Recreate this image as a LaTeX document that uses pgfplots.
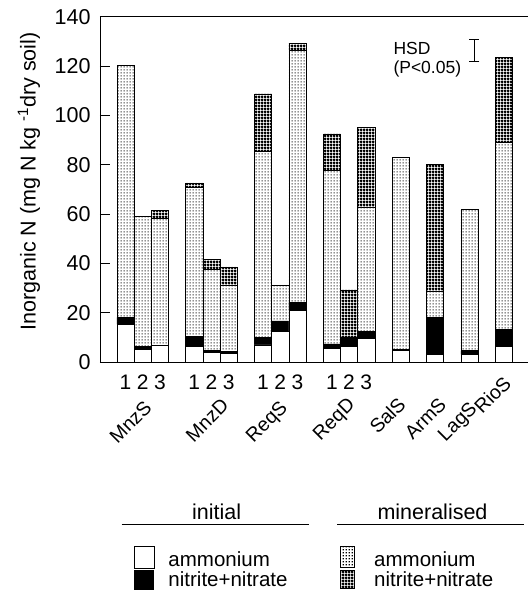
\documentclass[border=0pt]{standalone}
\usepackage{fontspec}
\setmainfont{Liberation Sans}
\usepackage{pgfplots}
\usepackage{pgfplotstable}
\pgfplotsset{compat=1.18}
\usetikzlibrary{patterns}
\pgfdeclarepatternformonly{mydots}{\pgfpointorigin}{\pgfpoint{3pt}{3pt}}{\pgfpoint{3pt}{3pt}}{%
 \pgfpathrectangle{\pgfpoint{0.7pt}{0.7pt}}{\pgfpoint{1.6pt}{1.6pt}}\pgfusepath{fill}}
\pgfdeclarepatternformonly{mygrid}{\pgfpointorigin}{\pgfpoint{3pt}{3pt}}{\pgfpoint{3pt}{3pt}}{%
 \pgfsetlinewidth{2.0pt}\pgfpathmoveto{\pgfpoint{0pt}{1.5pt}}\pgfpathlineto{\pgfpoint{3pt}{1.5pt}}%
 \pgfpathmoveto{\pgfpoint{1.5pt}{0pt}}\pgfpathlineto{\pgfpoint{1.5pt}{3pt}}\pgfusepath{stroke}}

\pgfplotstableread{
x  ia   in   ma    mn
0  15.3 2.8  102.1 0
1  5.1  1.1  52.9  0
2  6.6  0    51.7  3.1
4  6.2  4.3  60.2  1.9
5  3.8  0.8  33.2  3.8
6  3.5  0.7  27.0  7.4
8  6.9  3.1  75.5  23.2
9  12.3 4.4  14.3  0
10 21.0 3.3  102.0 2.9
12 5.5  1.8  70.4  14.8
13 6.4  3.8  0     19.0
14 9.6  2.9  50.4  32.3
16 4.6  0.4  78.1  0
18 3.2  14.9 10.4  51.5
20 3.1  1.5  57.4  0
22 6.2  7.0  76.0  34.4
}\data

\begin{document}
\begin{tikzpicture}
\useasboundingbox (-100pt,-228pt) rectangle (428pt,362pt);
\begin{axis}[
  at={(0,0)}, anchor=south west,
  scale only axis, width=429pt, height=345.3pt,
  xmin=-1.48, xmax=23.46, ymin=0, ymax=140,
  ybar stacked, bar width=1,
  xtick=\empty,
  ytick={0,20,...,140},
  tick align=inside, ytick pos=left, major tick length=10pt,
  axis line style={line width=0.8pt},
  tick style={line width=0.8pt, black},
  yticklabel style={font=\fontsize{21.5}{25}\selectfont, xshift=-6pt},
  /pgf/number format/assume math mode=true,
  clip=false,
]
\addplot[fill=white, draw=black, line width=0.5pt] table[x=x,y=ia]{\data};
\addplot[fill=black, draw=black, line width=0.5pt] table[x=x,y=in]{\data};
\addplot[pattern=mydots, draw=black, line width=0.5pt] table[x=x,y=ma]{\data};
\addplot[pattern=mygrid, draw=black, line width=0.5pt] table[x=x,y=mn]{\data};

\tikzset{num/.style={anchor=base, inner sep=0pt, font=\fontsize{21}{25}\selectfont}}
\foreach \g in {0,4,8,12}{
  \pgfmathtruncatemacro{\a}{\g}
  \pgfmathtruncatemacro{\b}{\g+1}
  \pgfmathtruncatemacro{\c}{\g+2}
  \edef\temp{\noexpand\node[num] at (axis cs:\a,-11.05) {1};
    \noexpand\node[num] at (axis cs:\b,-11.05) {2};
    \noexpand\node[num] at (axis cs:\c,-11.05) {3};}
  \temp
}
\tikzset{cat/.style={rotate=45, anchor=base east, inner sep=0pt, font=\fontsize{19.5}{23}\selectfont}}
\node[cat] at (axis cs:1.60,-19.0) {MnzS};
\node[cat] at (axis cs:6.08,-18.2) {MnzD};
\node[cat] at (axis cs:9.47,-19.0) {ReqS};
\node[cat] at (axis cs:13.40,-17.7) {ReqD};
\node[cat] at (axis cs:16.37,-17.7) {SalS};
\node[cat] at (axis cs:18.72,-17.9) {ArmS};
\node[cat] at (axis cs:20.50,-19.4) {LagS};
\node[cat] at (axis cs:22.50,-9.2) {RioS};
\end{axis}

\begin{axis}[
  at={(0,0)}, anchor=south west,
  scale only axis, width=429pt, height=345.3pt,
  xmin=-1.48, xmax=23.46, ymin=0, ymax=140,
  hide axis, clip=false,
]
\addplot[draw=none, mark=none,
  error bars/.cd, y dir=both, y explicit,
  error bar style={draw=black, solid, line width=0.7pt},
  error mark options={rotate=90, mark size=5pt, draw=black, solid, line width=0.7pt}]
  coordinates {(20.28,126.5) +- (0,4.5)};
\end{axis}

\node[rotate=90, font=\fontsize{21.5}{25}\selectfont] at (-71pt,180.5pt) {Inorganic N (mg N kg \textsuperscript{-1}dry soil)};
\node[anchor=base west, inner sep=0pt, font=\fontsize{17.5}{20}\selectfont] at (293.3pt,307.7pt) {HSD};
\node[anchor=base west, inner sep=0pt, font=\fontsize{17.5}{20}\selectfont] at (293.3pt,288.7pt) {(P<0.05)};

% legend
\node[anchor=base, inner sep=0pt, font=\fontsize{21.5}{25}\selectfont] at (116.7pt,-157.3pt) {initial};
\node[anchor=base, inner sep=0pt, font=\fontsize{21.5}{25}\selectfont] at (332.5pt,-157.3pt) {mineralised};
\draw[line width=0.8pt] (21.7pt,-162pt) -- (209.3pt,-162pt);
\draw[line width=0.8pt] (237.3pt,-162pt) -- (424pt,-162pt);
\draw[fill=white, line width=0.6pt] (34.3pt,-184pt) rectangle (54.3pt,-206pt);
\fill[black] (34.3pt,-208pt) rectangle (54.3pt,-228pt);
\draw[pattern=mydots, line width=0.6pt] (240.7pt,-184pt) rectangle (254pt,-205pt);
\draw[pattern=mygrid, line width=0.6pt] (240.7pt,-208pt) rectangle (254pt,-226pt);
\node[anchor=base west, inner sep=0pt, font=\fontsize{20.5}{24}\selectfont] at (68.3pt,-204pt) {ammonium};
\node[anchor=base west, inner sep=0pt, font=\fontsize{20.5}{24}\selectfont] at (68.3pt,-224pt) {nitrite+nitrate};
\node[anchor=base west, inner sep=0pt, font=\fontsize{20.5}{24}\selectfont] at (274pt,-204pt) {ammonium};
\node[anchor=base west, inner sep=0pt, font=\fontsize{20.5}{24}\selectfont] at (274pt,-224pt) {nitrite+nitrate};
\end{tikzpicture}
\end{document}
